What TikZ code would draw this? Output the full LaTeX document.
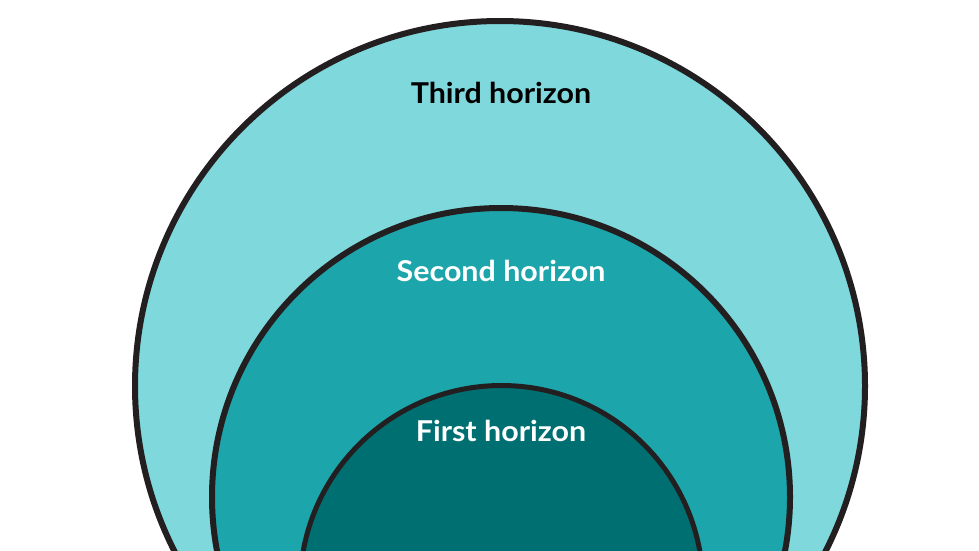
\documentclass[tikz,border=0pt]{standalone}
\usepackage{fontspec}
\setmainfont[FakeStretch=1.06]{Lato}
\definecolor{ringlight}{HTML}{7FD8DC}
\definecolor{ringmid}{HTML}{1CA5AA}
\definecolor{ringdark}{HTML}{006F72}
\definecolor{ringline}{HTML}{231F20}
\begin{document}
\begin{tikzpicture}[x=1pt,y=-1pt,
  ring/.style={draw=ringline,line width=6pt},
  lbl/.style={font=\fontsize{28.7}{32}\selectfont\bfseries,inner sep=0pt,anchor=center}]
\useasboundingbox (0,0) rectangle (979,550);
\clip (0,0) rectangle (979,550);
\fill[white] (0,0) rectangle (979,550);
\filldraw[ring,fill=ringlight] (500,386) circle[radius=365];
\filldraw[ring,fill=ringmid] (501,497) circle[radius=289];
\filldraw[ring,line width=5pt,fill=ringdark] (501.5,587) circle[radius=201.5];
\node[lbl,text=black] (third) at (501,93) {Third horizon};
\node[lbl,text=white] (second) at (501,271) {Second horizon};
\node[lbl,text=white] (first) at (501,431) {First horizon};
\end{tikzpicture}
\end{document}
